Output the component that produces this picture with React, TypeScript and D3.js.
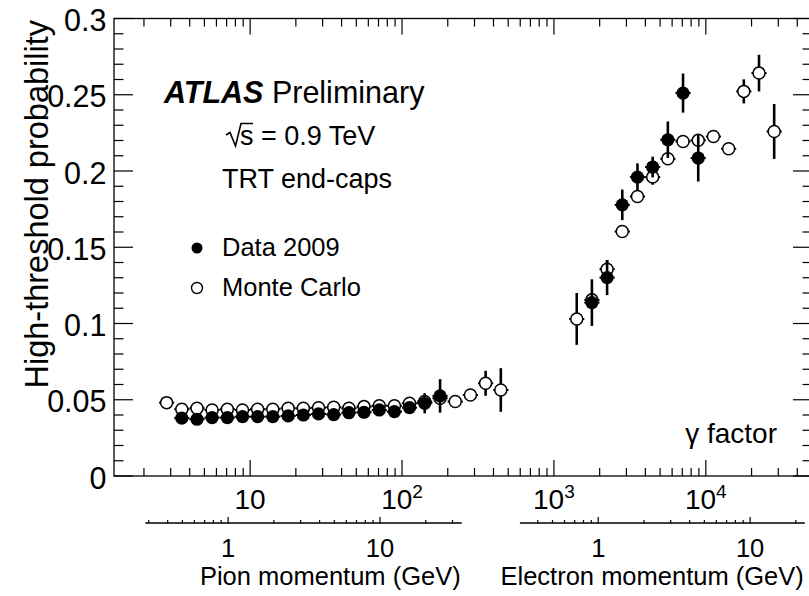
import React, { useEffect, useRef } from "react";
import * as d3 from "d3";

const W = 809;
const H = 596;
const FONT = "'Liberation Sans', Arial, Helvetica, sans-serif";

// frame in pixels (right edge falls just outside the picture)
const frame = { left: 114, right: 812, top: 18.5, bottom: 476 };
const gammaDomain = [1.27, 5e4];
const yDomain = [0, 0.3];

const yTickLabels = ["0", "0.05", "0.1", "0.15", "0.2", "0.25", "0.3"];
const gammaLabels = [
  { v: 10, base: "10", exp: "" },
  { v: 100, base: "10", exp: "2" },
  { v: 1000, base: "10", exp: "3" },
  { v: 10000, base: "10", exp: "4" },
];

// secondary momentum axes (GeV)
const pionMass = 0.1396;
const electronMass = 0.000511;
const pionP = [0.285, 34.5];
const electronP = [0.305, 22.9];
const pionPLabels = [1, 10];
const electronPLabels = [1, 10];

// pions, Monte Carlo
const pionGammaMC = [2.82, 3.55, 4.47, 5.62, 7.08, 8.91, 11.2, 14.1, 17.8, 22.4, 28.2, 35.5, 44.7, 56.2, 70.8, 89.1, 112, 141, 178, 224, 282, 355, 447];
const pionMC = [0.0481, 0.0438, 0.0444, 0.0433, 0.0438, 0.0433, 0.0438, 0.0438, 0.0444, 0.0444, 0.0448, 0.0451, 0.0444, 0.0455, 0.0461, 0.0461, 0.0477, 0.0488, 0.051, 0.0488, 0.0531, 0.0608, 0.0564];
const pionMCErr = [0.001, 0.001, 0.001, 0.001, 0.001, 0.001, 0.001, 0.001, 0.001, 0.001, 0.001, 0.001, 0.001, 0.001, 0.001, 0.001, 0.0015, 0.0015, 0.002, 0.002, 0.0025, 0.0082, 0.0143];

// pions, data 2009
const pionGammaData = [3.55, 4.47, 5.62, 7.08, 8.91, 11.2, 14.1, 17.8, 22.4, 28.2, 35.5, 44.7, 56.2, 70.8, 89.1, 112, 141, 178];
const pionData = [0.0379, 0.0372, 0.0383, 0.0383, 0.0389, 0.0389, 0.0389, 0.0394, 0.04, 0.0407, 0.0403, 0.0415, 0.0418, 0.0433, 0.0422, 0.0448, 0.0477, 0.0525];
const pionDataErr = [0.001, 0.001, 0.001, 0.001, 0.001, 0.001, 0.001, 0.001, 0.001, 0.001, 0.001, 0.0012, 0.0012, 0.0015, 0.002, 0.003, 0.0066, 0.011];

// electrons, Monte Carlo
const elecGammaMC = [1413, 1778, 2239, 2818, 3548, 4467, 5623, 7079, 8913, 11220, 14130, 17780, 22390, 28180];
const elecMC = [0.103, 0.1155, 0.1356, 0.1603, 0.1833, 0.196, 0.208, 0.2194, 0.2201, 0.2226, 0.2146, 0.2522, 0.2642, 0.2259];
const elecMCErr = [0.017, 0.004, 0.006, 0.003, 0.003, 0.005, 0.003, 0.003, 0.004, 0.003, 0.004, 0.0079, 0.012, 0.018];

// electrons, data 2009
const elecGammaData = [1778, 2239, 2818, 3548, 4467, 5623, 7079, 8913];
const elecData = [0.1137, 0.1301, 0.1778, 0.196, 0.2026, 0.2205, 0.2511, 0.2085];
const elecDataErr = [0.0153, 0.0115, 0.01, 0.009, 0.0068, 0.012, 0.0128, 0.0154];

const ErrorPlot: React.FC = () => {
  const svgRef = useRef<SVGSVGElement | null>(null);

  useEffect(() => {
    if (!svgRef.current) return;
    const svg = d3.select(svgRef.current);
    svg.selectAll("*").remove();

    const x = d3.scaleLog().domain(gammaDomain).range([frame.left, frame.right]);
    const y = d3.scaleLinear().domain(yDomain).range([frame.bottom, frame.top]);

    const g = svg.append("g").attr("font-family", FONT).attr("fill", "#000");

    // frame
    g.append("rect")
      .attr("x", frame.left)
      .attr("y", frame.top)
      .attr("width", frame.right - frame.left)
      .attr("height", frame.bottom - frame.top)
      .attr("fill", "none")
      .attr("stroke", "#000")
      .attr("stroke-width", 1.3);

    // gamma ticks on bottom and top
    const gTicks = x.ticks().filter((t) => t >= gammaDomain[0] && t <= gammaDomain[1]);
    const isDecade = (t: number) => Math.abs(Math.log10(t) - Math.round(Math.log10(t))) < 1e-6;
    gTicks.forEach((t) => {
      const len = isDecade(t) ? 16 : 8;
      g.append("line").attr("x1", x(t)).attr("x2", x(t)).attr("y1", frame.bottom).attr("y2", frame.bottom - len).attr("stroke", "#000").attr("stroke-width", 1.2);
      g.append("line").attr("x1", x(t)).attr("x2", x(t)).attr("y1", frame.top).attr("y2", frame.top + len).attr("stroke", "#000").attr("stroke-width", 1.2);
    });

    // y ticks left and right
    const yMinor = d3.range(0, 31).map((i) => i / 100);
    yMinor.forEach((t, i) => {
      const len = i % 5 === 0 ? 19 : 9.5;
      g.append("line").attr("x1", frame.left).attr("x2", frame.left + len).attr("y1", y(t)).attr("y2", y(t)).attr("stroke", "#000").attr("stroke-width", 1.2);
      g.append("line").attr("x1", frame.right).attr("x2", frame.right - len).attr("y1", y(t)).attr("y2", y(t)).attr("stroke", "#000").attr("stroke-width", 1.2);
    });

    // y tick labels
    yTickLabels.forEach((lab) => {
      g.append("text")
        .attr("x", 106.5)
        .attr("y", y(+lab) + 12.5)
        .attr("text-anchor", "end")
        .attr("font-size", 30.5)
        .text(lab);
    });

    // gamma labels
    gammaLabels.forEach((d) => {
      const t = g.append("text")
        .attr("x", x(d.v))
        .attr("y", 509)
        .attr("text-anchor", "middle")
        .attr("font-size", 28);
      t.append("tspan").text(d.base);
      if (d.exp) t.append("tspan").attr("dy", -11).attr("font-size", 19).text(d.exp);
    });

    // y title
    g.append("text")
      .attr("transform", `translate(48,20) rotate(-90)`)
      .attr("text-anchor", "end")
      .attr("font-size", 32.5)
      .text("High-threshold probability");

    // gamma factor label
    g.append("text")
      .attr("x", 777)
      .attr("y", 443)
      .attr("text-anchor", "end")
      .attr("font-size", 28)
      .text("\u03b3 factor");

    // secondary momentum axes
    const momentumAxis = (mass: number, pRange: number[], labels: number[], title: string) => {
      const px = d3
        .scaleLog()
        .domain(pRange)
        .range([x(pRange[0] / mass), x(pRange[1] / mass)]);
      const ay = 523;
      g.append("line").attr("x1", px.range()[0]).attr("x2", px.range()[1]).attr("y1", ay).attr("y2", ay).attr("stroke", "#000").attr("stroke-width", 1.3);
      px.ticks()
        .filter((t) => t >= pRange[0] && t <= pRange[1])
        .forEach((t) => {
          const len = isDecade(t) ? 6 : 3;
          g.append("line").attr("x1", px(t)).attr("x2", px(t)).attr("y1", ay).attr("y2", ay - len).attr("stroke", "#000").attr("stroke-width", 1.2);
        });
      labels.forEach((v) => {
        g.append("text").attr("x", px(v)).attr("y", 557).attr("text-anchor", "middle").attr("font-size", 25.5).text(String(v));
      });
      g.append("text").attr("x", px.range()[1] - 1).attr("y", 585).attr("text-anchor", "end").attr("font-size", 25.5).text(title);
    };
    momentumAxis(pionMass, pionP, pionPLabels, "Pion momentum (GeV)");
    momentumAxis(electronMass, electronP, electronPLabels, "Electron momentum (GeV)");

    // text block
    const atlas = g.append("text").attr("x", 164).attr("y", 103).attr("font-size", 30.5);
    atlas.append("tspan").attr("font-weight", "bold").attr("font-style", "italic").text("ATLAS");
    atlas.append("tspan").text(" Preliminary");

    g.append("path")
      .attr("d", "M226,135 L230,132.5 L235.5,146 L241,123.5 L253,123.5")
      .attr("fill", "none")
      .attr("stroke", "#000")
      .attr("stroke-width", 1.6);
    g.append("text").attr("x", 240).attr("y", 145).attr("font-size", 27).text("s = 0.9 TeV");
    g.append("text").attr("x", 222).attr("y", 188).attr("font-size", 27).text("TRT end-caps");

    // legend
    g.append("circle").attr("cx", 197).attr("cy", 248).attr("r", 5.5).attr("fill", "#000");
    g.append("circle").attr("cx", 197).attr("cy", 288).attr("r", 5.5).attr("fill", "#fff").attr("stroke", "#000").attr("stroke-width", 1.4);
    g.append("text").attr("x", 222).attr("y", 256).attr("font-size", 25.5).text("Data 2009");
    g.append("text").attr("x", 222).attr("y", 296).attr("font-size", 25.5).text("Monte Carlo");

    // points with error bars
    const halfBin = Math.pow(10, 0.05);
    const drawSeries = (gam: number[], val: number[], err: number[], filled: boolean) => {
      const pts = gam.map((gv, i) => ({ g: gv, v: val[i], e: err[i] }));
      const s = g.append("g");
      s.selectAll("line.xe")
        .data(pts)
        .enter()
        .append("line")
        .attr("x1", (d) => x(d.g / halfBin))
        .attr("x2", (d) => x(d.g * halfBin))
        .attr("y1", (d) => y(d.v))
        .attr("y2", (d) => y(d.v))
        .attr("stroke", "#000")
        .attr("stroke-width", 2);
      s.selectAll("line.ye")
        .data(pts)
        .enter()
        .append("line")
        .attr("x1", (d) => x(d.g))
        .attr("x2", (d) => x(d.g))
        .attr("y1", (d) => y(d.v - d.e))
        .attr("y2", (d) => y(d.v + d.e))
        .attr("stroke", "#000")
        .attr("stroke-width", 2.6);
      s.selectAll("circle")
        .data(pts)
        .enter()
        .append("circle")
        .attr("cx", (d) => x(d.g))
        .attr("cy", (d) => y(d.v))
        .attr("r", filled ? 6.6 : 6)
        .attr("fill", filled ? "#000" : "#fff")
        .attr("stroke", "#000")
        .attr("stroke-width", filled ? 0 : 1.5);
    };
    drawSeries(pionGammaMC, pionMC, pionMCErr, false);
    drawSeries(elecGammaMC, elecMC, elecMCErr, false);
    drawSeries(pionGammaData, pionData, pionDataErr, true);
    drawSeries(elecGammaData, elecData, elecDataErr, true);
  }, []);

  return (
    <svg
      ref={svgRef}
      width={W}
      height={H}
      style={{ position: "absolute", left: 0, top: 0, background: "#fff", overflow: "hidden" }}
    />
  );
};

export default function App() {
  return <ErrorPlot />;
}
